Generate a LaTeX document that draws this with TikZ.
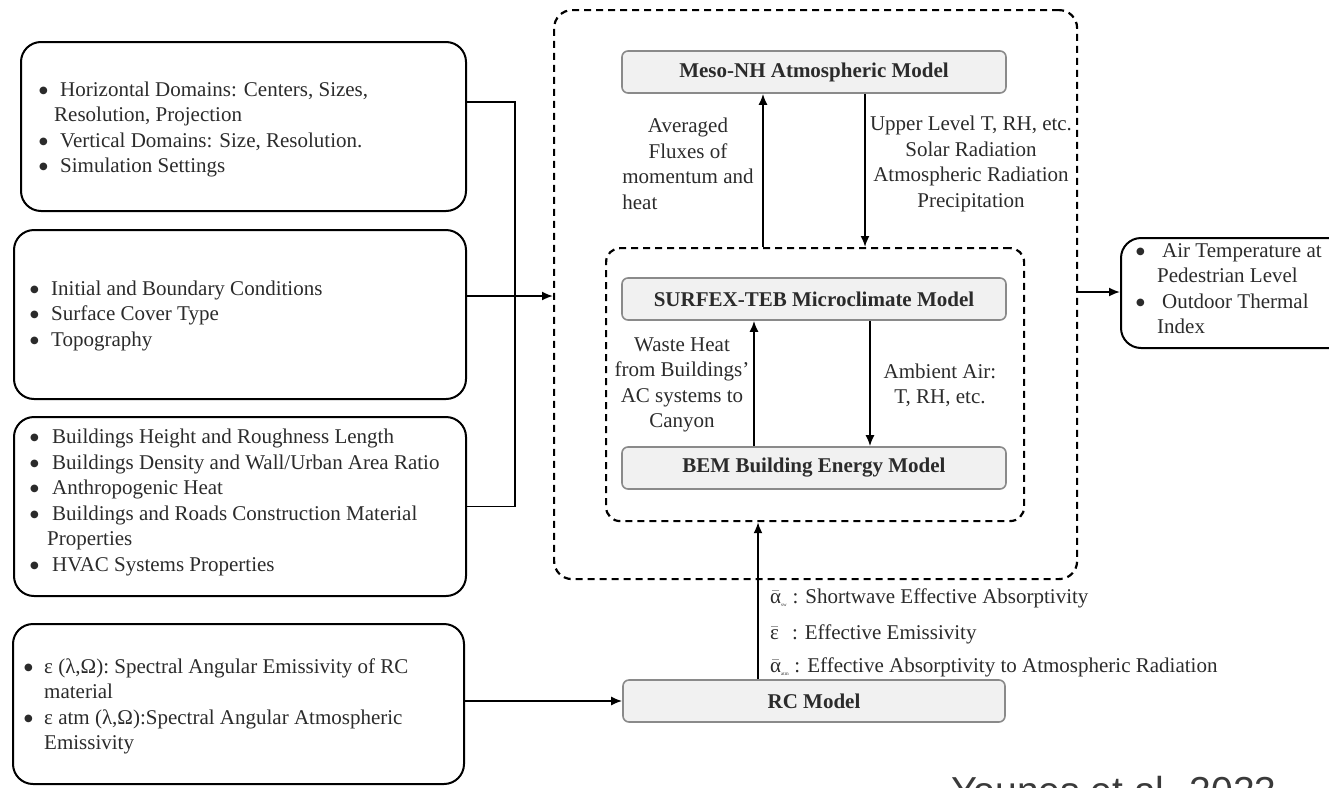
\documentclass[tikz,border=0pt]{standalone}
\usepackage{fontspec}
\setmainfont{Liberation Serif}
\newfontfamily\credfont{Liberation Sans}
\newfontfamily\dotfont{DejaVu Sans}
\usetikzlibrary{arrows.meta,calc}

\definecolor{inkgray}{HTML}{2B2B2B}
\definecolor{modelfill}{HTML}{F1F1F1}
\definecolor{modeledge}{HTML}{8A8A8A}
\definecolor{credgray}{HTML}{3A3A3A}

% round bullet in a box of given width, followed by the item text
\newcommand{\bul}[2]{\makebox[#1][l]{\raisebox{3pt}{\dotfont\fontsize{10}{12}\selectfont ●}}#2}

\begin{document}
\begin{tikzpicture}[x=1pt,y=-1pt,
  txt/.style={inner sep=0pt, align=left, text=inkgray,
    font=\fontsize{21}{25.5}\selectfont},
  ctxt/.style={txt, align=center},
  inbox/.style={draw, line width=2pt, rounded corners=20pt, inner sep=0pt},
  dashbox/.style={draw, line width=2.2pt, dash pattern=on 7pt off 5pt,
    rounded corners=18pt, inner sep=0pt},
  model/.style={draw=modeledge, fill=modelfill, line width=1.6pt,
    rounded corners=6pt, minimum width=384pt, minimum height=42pt,
    text=inkgray, font=\fontsize{21}{25.5}\selectfont\bfseries},
  link/.style={line width=1.8pt},
  arr/.style={link, -{Latex[length=11pt,width=9pt]}}
]
\useasboundingbox (0,0) rectangle (1329,787);

% ---------- input boxes on the left ----------
\node[inbox, anchor=north west, minimum width=445pt, minimum height=169pt] (b1) at (20,41) {};
\node[inbox, anchor=north west, minimum width=452pt, minimum height=169pt] (b2) at (13,229) {};
\node[inbox, anchor=north west, minimum width=452pt, minimum height=179pt] (b3) at (13,416) {};
\node[inbox, anchor=north west, minimum width=451pt, minimum height=160pt] (b4) at (12,623) {};

\node[txt, anchor=west] (b1t) at (39,129.5) {%
  \bul{21pt}{Horizontal Domains: Centers, Sizes,}\\
  \hspace*{15pt}Resolution, Projection\\
  \bul{21pt}{Vertical Domains: Size, Resolution.}\\
  \bul{21pt}{Simulation Settings}};
\node[txt, anchor=west] (b2t) at (30,315.5) {%
  \bul{21pt}{Initial and Boundary Conditions}\\
  \bul{21pt}{Surface Cover Type}\\
  \bul{21pt}{Topography}};
\node[txt, anchor=west] (b3t) at (30,502.5) {%
  \bul{22pt}{Buildings Height and Roughness Length}\\
  \bul{22pt}{Buildings Density and Wall/Urban Area Ratio}\\
  \bul{22pt}{Anthropogenic Heat}\\
  \bul{22pt}{Buildings and Roads Construction Material}\\
  \hspace*{17pt}Properties\\
  \bul{22pt}{HVAC Systems Properties}};
\node[txt, anchor=west] (b4t) at (24,706.5) {%
  \bul{20pt}{ε (λ,Ω): Spectral Angular Emissivity of RC}\\
  \hspace*{20pt}material\\
  \bul{20pt}{ε atm (λ,Ω):Spectral Angular Atmospheric}\\
  \hspace*{20pt}Emissivity};

% ---------- coupled model block ----------
\node[dashbox, anchor=north west, minimum width=523pt, minimum height=569pt] (outer) at (553,9) {};
\node[dashbox, anchor=north west, minimum width=418pt, minimum height=273pt,
  rounded corners=14pt] (inner) at (605,247) {};

\node[model] (meso) at (814,72) {Meso-NH Atmospheric Model};
\node[model] (surf) at (814,299) {SURFEX-TEB Microclimate Model};
\node[model] (bem)  at (814,468) {BEM Building Energy Model};
\node[model, minimum width=382pt] (rc) at (814,701) {RC Model};

% ---------- output box ----------
\node[inbox, anchor=north west, minimum width=240pt, minimum height=110pt] (outb) at (1120,237) {};
\node[txt, anchor=west] (outt) at (1136,288.5) {%
  \bul{26pt}{Air Temperature at}\\
  \hspace*{21pt}Pedestrian Level\\
  \bul{26pt}{Outdoor Thermal}\\
  \hspace*{21pt}Index};

% ---------- exchanged quantities ----------
\node[ctxt] (flux) at (688,164) {Averaged\\Fluxes of\\momentum and\\
  \makebox[0pt][l]{heat}\phantom{momentum and}};
\node[ctxt] (upper) at (971,164) {Upper Level T, RH, etc.\\Solar Radiation\\
  Atmospheric Radiation\\Precipitation};
\node[ctxt] (waste) at (682,385) {Waste Heat\\from Buildings'\\AC systems to\\Canyon};
\node[ctxt] (amb) at (940,385.5) {Ambient Air:\\T, RH, etc.};

\node[txt, anchor=west] (aSW) at (770,598)
  {$\bar{\mbox{α}}_{\mbox{\tiny sw}}$ : Shortwave Effective Absorptivity};
\node[txt, anchor=west] (aEM) at (770,634)
  {$\bar{\mbox{ε}}$\hspace*{13pt}: Effective Emissivity};
\node[txt, anchor=west] (aAT) at (770,667)
  {$\bar{\mbox{α}}_{\mbox{\tiny atm}}$ : Effective Absorptivity to Atmospheric Radiation};

\node[anchor=base west, inner sep=0pt, text=credgray,
  font=\credfont\fontsize{39}{40}\selectfont] (cred) at (951,804) {Younes et al. 2023};

% ---------- lanes and taps for connectors ----------
\coordinate (laneUp)   at (763,0);
\coordinate (laneDown) at (865,0);
\coordinate (laneWH)   at (754,0);
\coordinate (laneAA)   at (870,0);
\coordinate (laneRC)   at (758,0);
\coordinate (bus)      at (515,0);
\coordinate (tap1)     at (0,102);
\coordinate (tap2)     at (0,296);
\coordinate (tapOut)   at (0,292);

% ---------- connectors ----------
\draw[arr] (laneUp |- inner.north) -- (laneUp |- meso.south);
\draw[arr] (laneDown |- meso.south) -- (laneDown |- inner.north);
\draw[arr] (laneWH |- bem.north) -- (laneWH |- surf.south);
\draw[arr] (laneAA |- surf.south) -- (laneAA |- bem.north);
\draw[arr] (laneRC |- rc.north) -- (laneRC |- inner.south);

\draw[link] (b1.east |- tap1) -| (bus |- b3.east) -- (b3.east);
\draw[arr] (b2.east |- tap2) -- (outer.west |- tap2);
\draw[arr] (b4.east |- rc.west) -- (rc.west);
\draw[arr] (outer.east |- tapOut) -- (outb.west |- tapOut);
\end{tikzpicture}
\end{document}
